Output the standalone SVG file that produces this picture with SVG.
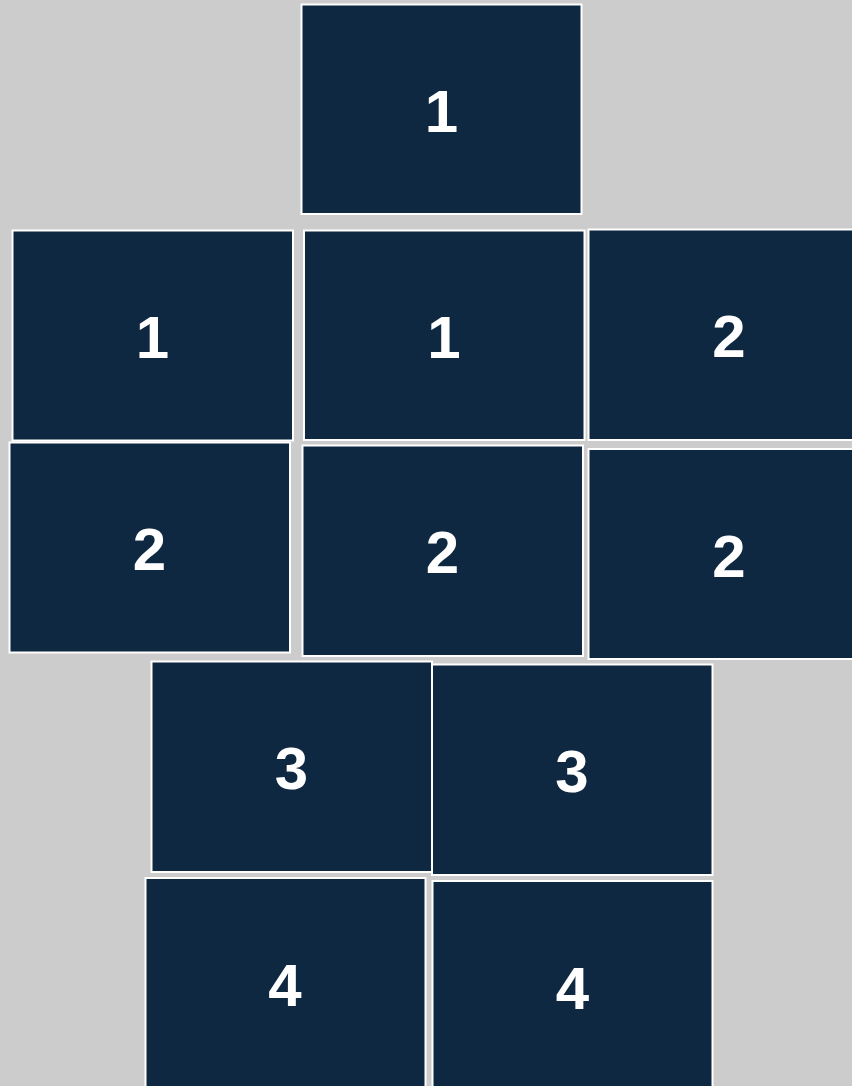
<svg xmlns="http://www.w3.org/2000/svg" width="852" height="1086" viewBox="0 0 852 1086">
<style>
.box rect{fill:#0f2841;stroke:#ffffff;stroke-width:2}
.box text{fill:#ffffff;font-family:"Liberation Sans",Arial,sans-serif;font-weight:bold;font-size:60px;text-anchor:middle}
</style>
<rect x="0" y="0" width="852" height="1086" fill="#cccccc"/>
<g id="connectors"></g>
<g id="n1a" class="box"><rect x="301.5" y="4.5" width="280" height="209.5"/><text x="441.5" y="131.5">1</text></g>
<g id="n1b" class="box"><rect x="12.5" y="230.5" width="280.5" height="210"/><text x="152.5" y="357.5">1</text></g>
<g id="n1c" class="box"><rect x="304" y="230.5" width="280.5" height="209.5"/><text x="444" y="357.5">1</text></g>
<g id="n2a" class="box"><rect x="588.5" y="229.5" width="281" height="210.5"/><text x="729" y="357">2</text></g>
<g id="n2b" class="box"><rect x="9.5" y="442.5" width="280.5" height="210"/><text x="149.5" y="570">2</text></g>
<g id="n2c" class="box"><rect x="302.5" y="445.5" width="280.5" height="210.5"/><text x="442.5" y="573">2</text></g>
<g id="n2d" class="box"><rect x="588.5" y="449" width="281" height="210"/><text x="729" y="576.5">2</text></g>
<g id="n3a" class="box"><rect x="151.5" y="661.5" width="280.5" height="210.5"/><text x="291.5" y="789">3</text></g>
<g id="n3b" class="box"><rect x="432" y="664.5" width="280.5" height="210.5"/><text x="572" y="792">3</text></g>
<g id="n4a" class="box"><rect x="145.5" y="878" width="280" height="211"/><text x="285" y="1006">4</text></g>
<g id="n4b" class="box"><rect x="432.5" y="881" width="280" height="211"/><text x="572.5" y="1009">4</text></g>
</svg>
